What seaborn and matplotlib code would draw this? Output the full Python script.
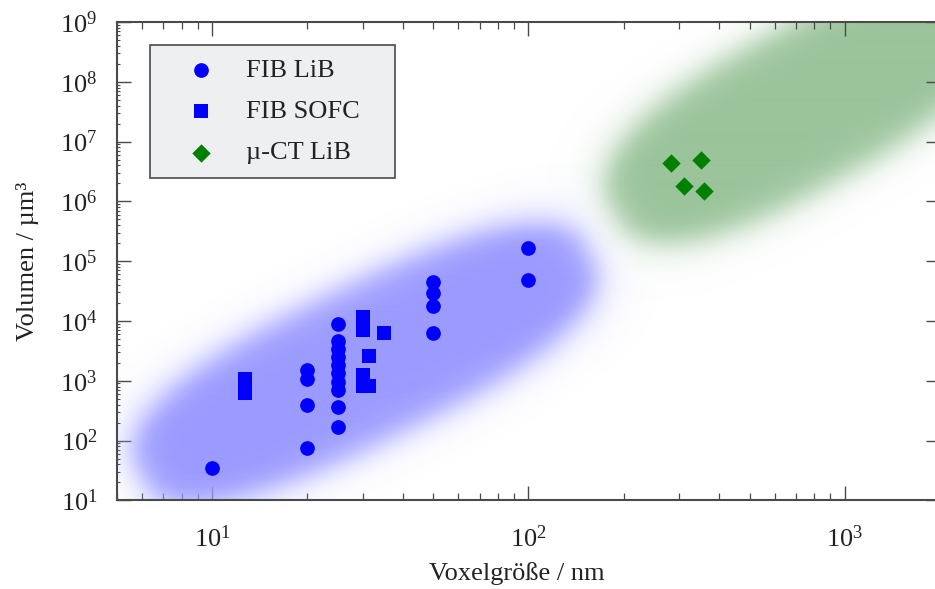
import numpy as np
import pandas as pd
import matplotlib
matplotlib.use("Agg")
import matplotlib.pyplot as plt
import seaborn as sns
from matplotlib.ticker import LogLocator, NullFormatter

# --- measured data -------------------------------------------------------
fib_lib_voxel = [10, 20, 20, 20, 20,
                 25, 25, 25, 25, 25, 25, 25, 25, 25, 25,
                 50, 50, 50, 50, 100, 100]
fib_lib_volume = [35, 1540, 1060, 400, 76,
                  8800, 4580, 3370, 2470, 1820, 1340, 944, 693, 365, 168,
                  44600, 28800, 18100, 6170, 163000, 47700]

fib_sofc_voxel = [12.7, 12.7, 30, 30, 35, 31.4, 30, 30, 31.4]
fib_sofc_volume = [1070, 625, 11700, 7000, 6170, 2570, 1240, 830, 830]

ct_lib_voxel = [282, 350, 310, 359]
ct_lib_volume = [4.3e6, 5.0e6, 1.78e6, 1.49e6]

group_names = ["FIB LiB", "FIB SOFC", "\u00b5-CT LiB"]

df = pd.DataFrame({
    "Voxel": fib_lib_voxel + fib_sofc_voxel + ct_lib_voxel,
    "Volumen": fib_lib_volume + fib_sofc_volume + ct_lib_volume,
    "Gruppe": ([group_names[0]] * len(fib_lib_voxel)
               + [group_names[1]] * len(fib_sofc_voxel)
               + [group_names[2]] * len(ct_lib_voxel)),
})

# --- style ---------------------------------------------------------------
sns.set_style("ticks")
plt.rcParams["font.family"] = ["Liberation Serif", "DejaVu Serif"]
plt.rcParams["mathtext.fontset"] = "custom"
plt.rcParams["mathtext.rm"] = "Liberation Serif"
plt.rcParams["mathtext.it"] = "Liberation Serif:italic"
plt.rcParams["mathtext.bf"] = "Liberation Serif:bold"

FS = 19
SPINE = "#4a4a4a"
TEXT = "#222222"

fig = plt.figure(figsize=(9.35, 5.89), dpi=100)
W_PX, H_PX = 823.0, 478.3
ax = fig.add_axes([117 / 935, 1 - 500.3 / 589, W_PX / 935, H_PX / 589])
ax.set_xscale("log")
ax.set_yscale("log")
XLIM = (5, 2000)
YLIM = (10, 1e9)
ax.set_xlim(*XLIM)
ax.set_ylim(*YLIM)


def to_axes_px(pt):
    fx, fy = ax.transAxes.inverted().transform(ax.transData.transform(pt))
    return fx * W_PX, fy * H_PX


def soft_blob(center, semi_major, semi_minor, angle_deg, power, soft):
    """Alpha map on the axes pixel grid: a rotated super-ellipse (sizes in
    pixels to the half-opacity contour) with a blurred rim."""
    cx, cy = to_axes_px(center)
    nx, ny = int(W_PX), int(H_PX)
    px = (np.arange(nx) + 0.5) * W_PX / nx
    py = (np.arange(ny) + 0.5) * H_PX / ny
    X, Y = np.meshgrid(px - cx, py - cy)
    t = np.deg2rad(angle_deg)
    u = np.abs(X * np.cos(t) + Y * np.sin(t)) + 1e-6
    v = np.abs(-X * np.sin(t) + Y * np.cos(t)) + 1e-6
    a, b, p = semi_major, semi_minor, power
    f = (u / a) ** p + (v / b) ** p
    r = f ** (1.0 / p)
    gu = u ** (p - 1) / a ** p
    gv = v ** (p - 1) / b ** p
    grad = f ** (1.0 / p - 1.0) * np.hypot(gu, gv)
    dist = (r - 1.0) / grad
    return 0.5 * (1.0 - np.tanh(dist / soft))


def draw_region(alpha, rgb, z):
    img = np.zeros(alpha.shape + (4,))
    img[..., :3] = np.array(rgb) / 255.0
    img[..., 3] = alpha
    ax.imshow(img, extent=(0, 1, 0, 1), transform=ax.transAxes,
              origin="lower", interpolation="bilinear", aspect="auto",
              zorder=z)


# shaded ranges of the two imaging techniques
blue_alpha = soft_blob((30.4, 1890), 250, 78, 26, 2.7, 18)
green_alpha = soft_blob((721, 3.37e7), 212, 80, 29, 2.6, 18)
draw_region(green_alpha, (155, 196, 155), 0.5)
draw_region(blue_alpha, (155, 155, 255), 0.6)

# --- scatter points ------------------------------------------------------
palette = {group_names[0]: "#0000ff", group_names[1]: "#0000ff",
           group_names[2]: "#008000"}
markers = {group_names[0]: "o", group_names[1]: "s", group_names[2]: "D"}
sizes = {group_names[0]: 112, group_names[1]: 88, group_names[2]: 88}

for name in group_names:
    sub = df[df["Gruppe"] == name]
    sns.scatterplot(data=sub, x="Voxel", y="Volumen", ax=ax,
                    color=palette[name], marker=markers[name],
                    s=sizes[name], linewidth=0, label=name, zorder=3)

ax.set_xlim(*XLIM)
ax.set_ylim(*YLIM)

# --- axes decoration -----------------------------------------------------
ax.set_xlabel("Voxelgr\u00f6\u00dfe / nm", fontsize=FS, color=TEXT)
ax.set_ylabel("Volumen / \u00b5m\u00b3", fontsize=FS, color=TEXT)
ax.xaxis.set_label_coords(0.486, -0.128)
ax.yaxis.set_label_coords(-0.095, 0.5)

ax.xaxis.set_major_locator(LogLocator(base=10, numticks=20))
ax.xaxis.set_minor_locator(LogLocator(base=10, subs=np.arange(2, 10), numticks=20))
ax.yaxis.set_major_locator(LogLocator(base=10, numticks=20))
ax.yaxis.set_minor_locator(LogLocator(base=10, subs=np.arange(2, 10), numticks=20))
ax.xaxis.set_minor_formatter(NullFormatter())
ax.yaxis.set_minor_formatter(NullFormatter())

ax.tick_params(which="both", direction="in", top=True, right=True,
               color=SPINE, labelsize=FS, labelcolor=TEXT)
ax.tick_params(axis="x", which="major", length=10, width=1.0, pad=18)
ax.tick_params(axis="x", which="minor", length=5, width=0.9)
ax.tick_params(axis="y", which="major", length=10, width=1.0, pad=14)
ax.tick_params(axis="y", which="minor", length=2, width=0.8)

for sp in ax.spines.values():
    sp.set_color(SPINE)
    sp.set_linewidth(1.5)

leg = ax.legend(loc="upper left", bbox_to_anchor=(0.040, 0.952, 0.298, 0.0),
                mode="expand", borderaxespad=0, fontsize=FS, frameon=True,
                fancybox=False, framealpha=1, borderpad=0.5,
                labelspacing=0.68, handlelength=2.9, handletextpad=0.25)
leg.get_frame().set_facecolor("#eeeff0")
leg.get_frame().set_edgecolor(SPINE)
leg.get_frame().set_linewidth(1.2)
for t in leg.get_texts():
    t.set_color(TEXT)
leg.set_zorder(5)

fig.savefig("out.png", dpi=100)
